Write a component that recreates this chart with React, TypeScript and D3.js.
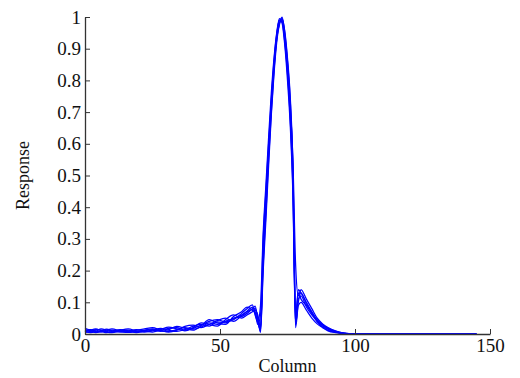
import { useEffect, useRef } from "react";
import * as d3 from "d3";

// sample columns shared by every response curve
const columns = [0, 2, 4, 6, 8, 10, 13, 16, 19, 22, 25, 28, 31, 34, 37, 40, 43, 46, 49, 52, 55, 58, 60, 62, 63, 64, 65,
  66, 67, 68, 69, 70, 71, 72, 73, 74, 75, 76, 77, 78, 79, 80, 82, 84, 86, 88, 90, 93, 96, 100, 110, 120, 130, 145];

const resp1 = [.010, .014, .010, .006, .008, .012, .008, .005, .008, .012, .016, .010, .008, .014, .020, .015, .022, .035, .030, .040, .048, .060, .072, .085, .070, .035, .015,
  .26, .42, .58, .73, .85, .94, .99, .99, .93, .83, .70, .48, .03, .11, .12, .085, .060, .040, .025, .015, .006, .002, 0, 0, 0, 0, 0];
const resp2 = [.005, .008, .014, .012, .006, .004, .010, .012, .006, .008, .012, .018, .012, .008, .014, .024, .030, .025, .038, .035, .050, .055, .065, .078, .082, .050, .010,
  .22, .38, .55, .70, .83, .93, .98, 1.0, .95, .86, .74, .52, .05, .14, .13, .10, .070, .045, .030, .018, .008, .003, .001, 0, 0, 0, 0];
const resp3 = [.018, .012, .006, .010, .015, .010, .006, .008, .014, .010, .006, .012, .018, .020, .012, .018, .028, .040, .045, .038, .045, .065, .080, .092, .060, .040, .090,
  .32, .47, .62, .76, .87, .95, .995, .98, .91, .80, .66, .44, .02, .09, .10, .075, .050, .032, .020, .010, .004, .001, 0, 0, 0, 0, 0];
const resp4 = [.008, .004, .008, .016, .012, .006, .012, .016, .010, .006, .010, .014, .022, .016, .010, .020, .035, .030, .025, .045, .060, .050, .060, .070, .075, .060, .020,
  .24, .40, .57, .72, .84, .93, .98, .995, .94, .85, .72, .55, .22, .12, .14, .11, .080, .050, .032, .020, .009, .003, .001, 0, 0, 0, 0];
const resp5 = [.014, .010, .004, .008, .012, .016, .010, .006, .012, .016, .020, .012, .006, .012, .024, .028, .020, .030, .042, .050, .040, .058, .070, .080, .088, .045, .005,
  .20, .36, .53, .69, .82, .92, .975, .995, .955, .87, .75, .54, .06, .13, .11, .090, .065, .042, .028, .016, .007, .002, 0, 0, 0, 0, 0];
const resp6 = [.006, .012, .016, .010, .004, .008, .014, .010, .004, .010, .014, .008, .014, .024, .018, .012, .025, .045, .035, .030, .055, .070, .085, .075, .065, .030, .060,
  .30, .45, .60, .74, .86, .945, .99, .985, .92, .82, .68, .46, .03, .10, .13, .095, .068, .038, .022, .012, .005, .001, 0, 0, 0, 0, 0];

const series = [resp1, resp2, resp3, resp4, resp5, resp6];
const xTicks = [0, 50, 100, 150];
const yTicks = [0, 0.1, 0.2, 0.3, 0.4, 0.5, 0.6, 0.7, 0.8, 0.9, 1];

export default function App() {
  const ref = useRef<SVGSVGElement>(null);
  const width = 520;
  const height = 378;
  const marginLeft = 85;
  const marginRight = 30;
  const marginTop = 17;
  const marginBottom = 44;

  useEffect(() => {
    const svg = d3.select(ref.current);
    svg.selectAll("*").remove();

    const x = d3.scaleLinear([0, 150], [marginLeft, width - marginRight]);
    const y = d3.scaleLinear([0, 1], [height - marginBottom, marginTop]);

    const line = d3.line<number>()
      .x((_, i) => x(columns[i]))
      .y(d => y(d))
      .curve(d3.curveMonotoneX);

    svg.append("g")
      .attr("fill", "none")
      .attr("stroke", "#0000ff")
      .attr("stroke-width", 1.25)
      .selectAll("path")
      .data(series)
      .join("path")
      .attr("d", d => line(d));

    const fmt = (d: number) => (d === 0 ? "0" : d === 1 ? "1" : d3.format(".1f")(d));
    const serif = "Liberation Serif, Times New Roman, serif";

    const gy = svg.append("g")
      .attr("transform", `translate(${marginLeft},0)`)
      .call(d3.axisLeft(y).tickValues(yTicks).tickFormat(fmt as any).tickSizeInner(-5).tickSizeOuter(0).tickPadding(4));

    const gx = svg.append("g")
      .attr("transform", `translate(0,${height - marginBottom})`)
      .call(d3.axisBottom(x).tickValues(xTicks).tickSizeInner(-5).tickSizeOuter(0).tickPadding(5));

    [gx, gy].forEach(g => {
      g.attr("font-family", serif).attr("font-size", 19);
      g.select(".domain").attr("stroke", "#333").attr("stroke-width", 1.3);
      g.selectAll(".tick line").attr("stroke", "#333");
      g.selectAll(".tick text").attr("fill", "#111");
    });

    svg.append("text")
      .attr("x", (marginLeft + width - marginRight) / 2)
      .attr("y", height - 6)
      .attr("text-anchor", "middle")
      .attr("font-family", serif)
      .attr("font-size", 18)
      .attr("fill", "#111")
      .text("Column");

    svg.append("text")
      .attr("transform", `translate(29,${(marginTop + height - marginBottom) / 2}) rotate(-90)`)
      .attr("text-anchor", "middle")
      .attr("font-family", serif)
      .attr("font-size", 18)
      .attr("fill", "#111")
      .text("Response");
  }, []);

  return (
    <svg
      ref={ref}
      width={width}
      height={height}
      style={{ position: "absolute", left: 0, top: 0, background: "#fff" }}
    />
  );
}
